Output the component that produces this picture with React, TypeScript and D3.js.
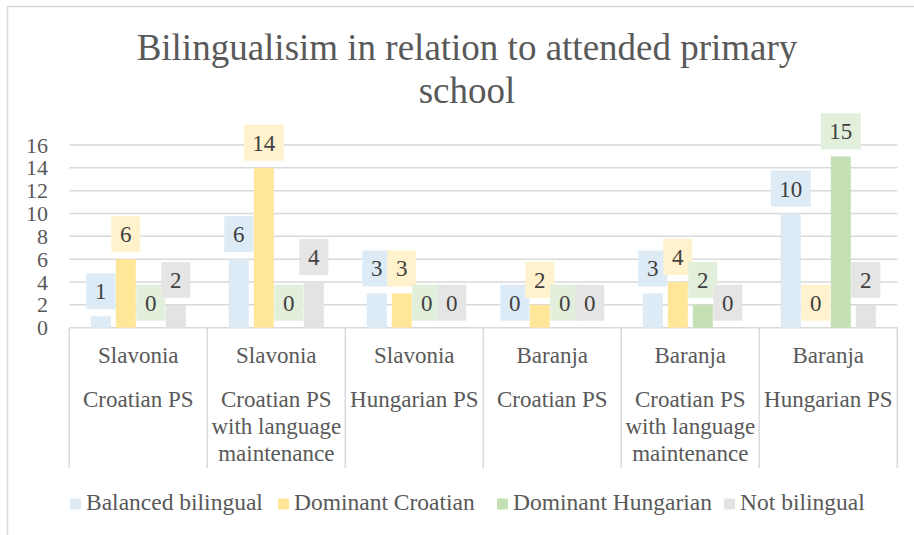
import React from "react";
import * as d3 from "d3";

const title = ["Bilingualisim in relation to attended primary", "school"];
const regions = ["Slavonia", "Slavonia", "Slavonia", "Baranja", "Baranja", "Baranja"];
const schoolLines = [
  ["Croatian PS"],
  ["Croatian PS", "with language", "maintenance"],
  ["Hungarian PS"],
  ["Croatian PS"],
  ["Croatian PS", "with language", "maintenance"],
  ["Hungarian PS"],
];
const seriesNames = ["Balanced bilingual", "Dominant Croatian", "Dominant Hungarian", "Not bilingual"];
const balanced = [1, 6, 3, 0, 3, 10];
const domCroatian = [6, 14, 3, 2, 4, 0];
const domHungarian = [0, 0, 0, 0, 2, 15];
const notBilingual = [2, 4, 0, 0, 0, 2];
const yTicks = [0, 2, 4, 6, 8, 10, 12, 14, 16];

const seriesValues = [balanced, domCroatian, domHungarian, notBilingual];
const barColors = ["#DDEBF7", "#FFE699", "#C5E0B4", "#E3E3E3"];
const boxColors = ["#DDEBF7", "#FFF2CC", "#E2EFDA", "#E5E5E5"];
const legendX = [70, 278, 497, 724];

const FONT = '"Liberation Serif", "Times New Roman", Tinos, "DejaVu Serif", "Noto Serif", serif';

export default function App() {
  const W = 914;
  const H = 535;
  const plotLeft = 69.3;
  const plotRight = 897.3;
  const y = d3.scaleLinear().domain([0, 16]).range([327.7, 145]);
  const x0 = d3.scaleBand<number>().domain(d3.range(regions.length)).range([plotLeft, plotRight]).padding(0);
  const x1 = d3
    .scaleBand<number>()
    .domain(d3.range(seriesNames.length))
    .range([21.5, x0.bandwidth() - 21.5])
    .paddingInner(0.2)
    .paddingOuter(0);

  const labelFont = 22;
  const digitW = labelFont * 0.5;
  const ts = { fontFamily: FONT };

  return (
    <svg
      width={W}
      height={H}
      style={{ position: "absolute", left: 0, top: 0, background: "#fff", fontFamily: FONT }}
    >
      <rect x={7.5} y={6.5} width={940} height={560} fill="#fff" stroke="#D9D9D9" strokeWidth={1.5} />
      {title.map((t, i) => (
        <text key={i} style={ts} x={467} y={60 + i * 43} textAnchor="middle" fontSize={37} fill="#595959">
          {t}
        </text>
      ))}
      {yTicks.map((t) => (
        <line key={t} x1={plotLeft} x2={plotRight} y1={y(t)} y2={y(t)} stroke="#D9D9D9" strokeWidth={1.5} />
      ))}
      {yTicks.map((t) => (
        <text key={"yl" + t} style={ts} x={48} y={y(t) + 7.5} textAnchor="end" fontSize={22} fill="#595959">
          {t}
        </text>
      ))}
      {d3.range(regions.length + 1).map((i) => {
        const xx = i < regions.length ? (x0(i) as number) : plotRight;
        return <line key={"s" + i} x1={xx} x2={xx} y1={y(0)} y2={468} stroke="#D9D9D9" strokeWidth={1.5} />;
      })}
      {regions.map((r, i) => {
        const cx = (x0(i) as number) + x0.bandwidth() / 2;
        return (
          <g key={"c" + i} fontSize={23} fill="#595959" textAnchor="middle">
            <text style={ts} x={cx} y={363}>{r}</text>
            {schoolLines[i].map((l, j) => (
              <text key={j} style={ts} x={cx} y={407 + j * 27}>
                {l}
              </text>
            ))}
          </g>
        );
      })}
      {seriesValues.map((vals, s) =>
        vals.map((v, i) => {
          const bx = (x0(i) as number) + (x1(s) as number);
          return (
            <rect
              key={"b" + s + "-" + i}
              x={bx}
              y={y(v)}
              width={x1.bandwidth()}
              height={y(0) - y(v)}
              fill={barColors[s]}
            />
          );
        })
      )}
      {seriesValues.map((vals, s) =>
        vals.map((v, i) => {
          const cx = (x0(i) as number) + (x1(s) as number) + x1.bandwidth() / 2;
          const txt = String(v);
          const bw = txt.length * digitW + 18;
          const bh = 36;
          const bottom = y(v) - 7;
          return (
            <g key={"l" + s + "-" + i}>
              <rect x={cx - bw / 2} y={bottom - bh} width={bw} height={bh} fill={boxColors[s]} />
              <text style={ts} x={cx} y={bottom - bh / 2 + 8} textAnchor="middle" fontSize={23} fill="#404040">
                {txt}
              </text>
            </g>
          );
        })
      )}
      {seriesNames.map((n, s) => (
        <g key={"lg" + s}>
          <rect x={legendX[s]} y={498.5} width={11} height={11} fill={barColors[s]} />
          <text style={ts} x={legendX[s] + 16} y={510} fontSize={23.5} fill="#595959">
            {n}
          </text>
        </g>
      ))}
    </svg>
  );
}
